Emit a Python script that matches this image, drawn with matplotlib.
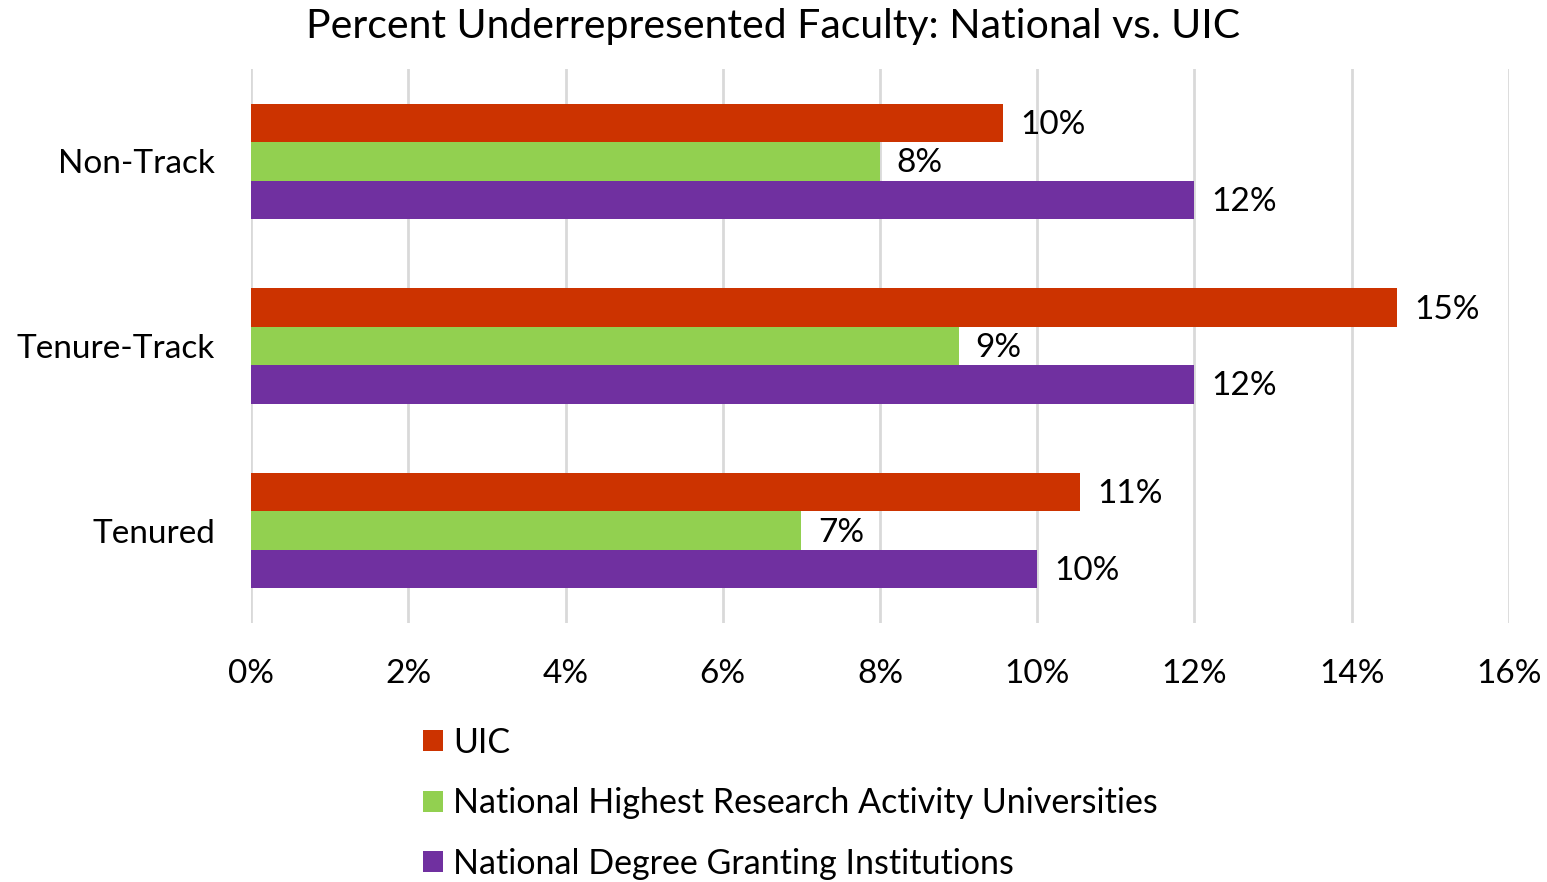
import matplotlib.pyplot as plt
import numpy as np

# data
categories = ['Non-Track', 'Tenure-Track', 'Tenured']
series_names = ['UIC', 'National Highest Research Activity Universities',
                'National Degree Granting Institutions']
uic = [9.57, 14.58, 10.55]
highest_research = [8.0, 9.0, 7.0]
degree_granting = [12.0, 12.0, 10.0]
xticks = [0, 2, 4, 6, 8, 10, 12, 14, 16]

colors = ['#CC3300', '#92D050', '#7030A0']

plt.rcParams['font.family'] = ['Lato', 'DejaVu Sans']

fig = plt.figure(figsize=(15.47, 8.82), dpi=100)
ax = fig.add_axes([0.1623, 0.2937, 0.8131, 0.6281])

y = np.arange(len(categories))
h = 0.208
all_series = [uic, highest_research, degree_granting]
for i, (vals, name, col) in enumerate(zip(all_series, series_names, colors)):
    pos = y + (i - 1) * h
    bars = ax.barh(pos, vals, height=h, color=col, label=name)
    for b, v in zip(bars, vals):
        ax.annotate('%d%%' % round(v), (v, b.get_y() + h / 2),
                    xytext=(12, -1.5), textcoords='offset points',
                    va='center', ha='left', fontsize=24)

ax.set_ylim(2.5, -0.5)
ax.set_xlim(0, 16)
ax.set_yticks(y)
ax.set_yticklabels(categories, fontsize=24)
ax.set_xticks(xticks)
ax.set_xticklabels(['%d%%' % t for t in xticks], fontsize=24)
ax.tick_params(axis='both', length=0)
ax.tick_params(axis='x', pad=26)
ax.tick_params(axis='y', pad=26)
ax.grid(axis='x', color='#D9D9D9', linewidth=2)
ax.set_axisbelow(True)
for s in ax.spines.values():
    s.set_visible(False)

fig.suptitle('Percent Underrepresented Faculty: National vs. UIC',
             fontsize=29.5, y=0.991, va='top')

# legend stacked under the axis
fig.legend(loc='upper left', bbox_to_anchor=(0.2734, 0.1762), frameon=False,
           fontsize=24.5, handlelength=0.58, handleheight=0.58, handletextpad=0.3,
           labelspacing=0.84, borderaxespad=0, borderpad=0)

fig.savefig('out.png', dpi=100)
